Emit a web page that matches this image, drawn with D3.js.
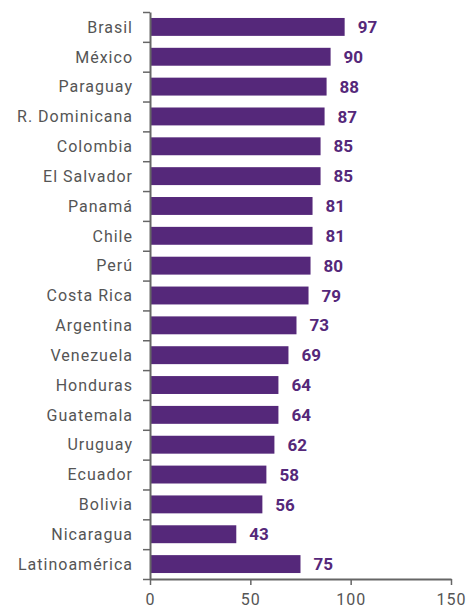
<!DOCTYPE html>
<html>
<head>
<meta charset="utf-8">
<script src="https://cdn.jsdelivr.net/npm/d3@7"></script>
<style>
  body { margin: 0; background: #fff; }
  svg text { font-family: Roboto, "DejaVu Sans", sans-serif; }
</style>
</head>
<body>
<div id="chart"></div>
<script>
// data
const countries = ["Brasil", "México", "Paraguay", "R. Dominicana", "Colombia", "El Salvador",
  "Panamá", "Chile", "Perú", "Costa Rica", "Argentina", "Venezuela", "Honduras",
  "Guatemala", "Uruguay", "Ecuador", "Bolivia", "Nicaragua", "Latinoamérica"];
const values = [97, 90, 88, 87, 85, 85, 81, 81, 80, 79, 73, 69, 64, 64, 62, 58, 56, 43, 75];
const xTicks = [0, 50, 100, 150];

const W = 468, H = 610;
const margin = {top: 12, right: 17, bottom: 31, left: 150};
const purple = "#55287a", grey = "#666";

const svg = d3.select("#chart").append("svg")
  .attr("width", W).attr("height", H);

const x = d3.scaleLinear().domain([0, 150]).range([margin.left, W - margin.right]);
const y = d3.scaleBand().domain(countries)
  .range([margin.top, H - margin.bottom])
  .paddingInner(0.4).paddingOuter(0.2);

// bars
svg.append("g").selectAll("rect")
  .data(countries)
  .join("rect")
  .attr("x", x(0))
  .attr("y", d => y(d))
  .attr("width", (d, i) => x(values[i]) - x(0))
  .attr("height", y.bandwidth())
  .attr("fill", purple);

// value labels
svg.append("g").selectAll("text")
  .data(countries)
  .join("text")
  .attr("x", (d, i) => x(values[i]) + 13)
  .attr("y", d => y(d) + y.bandwidth() / 2)
  .attr("dy", "0.36em")
  .attr("fill", purple)
  .style("font-size", "17px")
  .style("font-weight", "bold")
  .text((d, i) => values[i]);

// left axis: ticks at the band edges
const edge = d3.scaleLinear().domain([0, countries.length])
  .range([margin.top, H - margin.bottom]);
const yAxis = svg.append("g")
  .attr("transform", `translate(${margin.left},0)`)
  .call(d3.axisLeft(edge).tickValues(d3.range(countries.length + 1))
    .tickSize(7).tickSizeOuter(0).tickFormat(""));
yAxis.select(".domain").attr("stroke", grey).attr("stroke-width", 2);
yAxis.selectAll(".tick line").attr("stroke", grey).attr("stroke-width", 1.5);

// category labels
svg.append("g").selectAll("text")
  .data(countries)
  .join("text")
  .attr("x", margin.left - 17)
  .attr("y", d => y(d) + y.bandwidth() / 2)
  .attr("dy", "0.36em")
  .attr("text-anchor", "end")
  .attr("fill", "#555")
  .style("font-size", "16px")
  .style("letter-spacing", "1px")
  .text(d => d);

// bottom axis
const xAxis = svg.append("g")
  .attr("transform", `translate(0,${H - margin.bottom})`)
  .call(d3.axisBottom(x).tickValues(xTicks).tickSize(6).tickSizeOuter(0).tickPadding(9));
xAxis.select(".domain").attr("stroke", grey).attr("stroke-width", 2);
xAxis.selectAll(".tick line").attr("stroke", grey).attr("stroke-width", 1.5);
xAxis.selectAll(".tick text")
  .attr("fill", "#555")
  .style("font-size", "16px")
  .style("letter-spacing", "1px");
</script>
</body>
</html>
